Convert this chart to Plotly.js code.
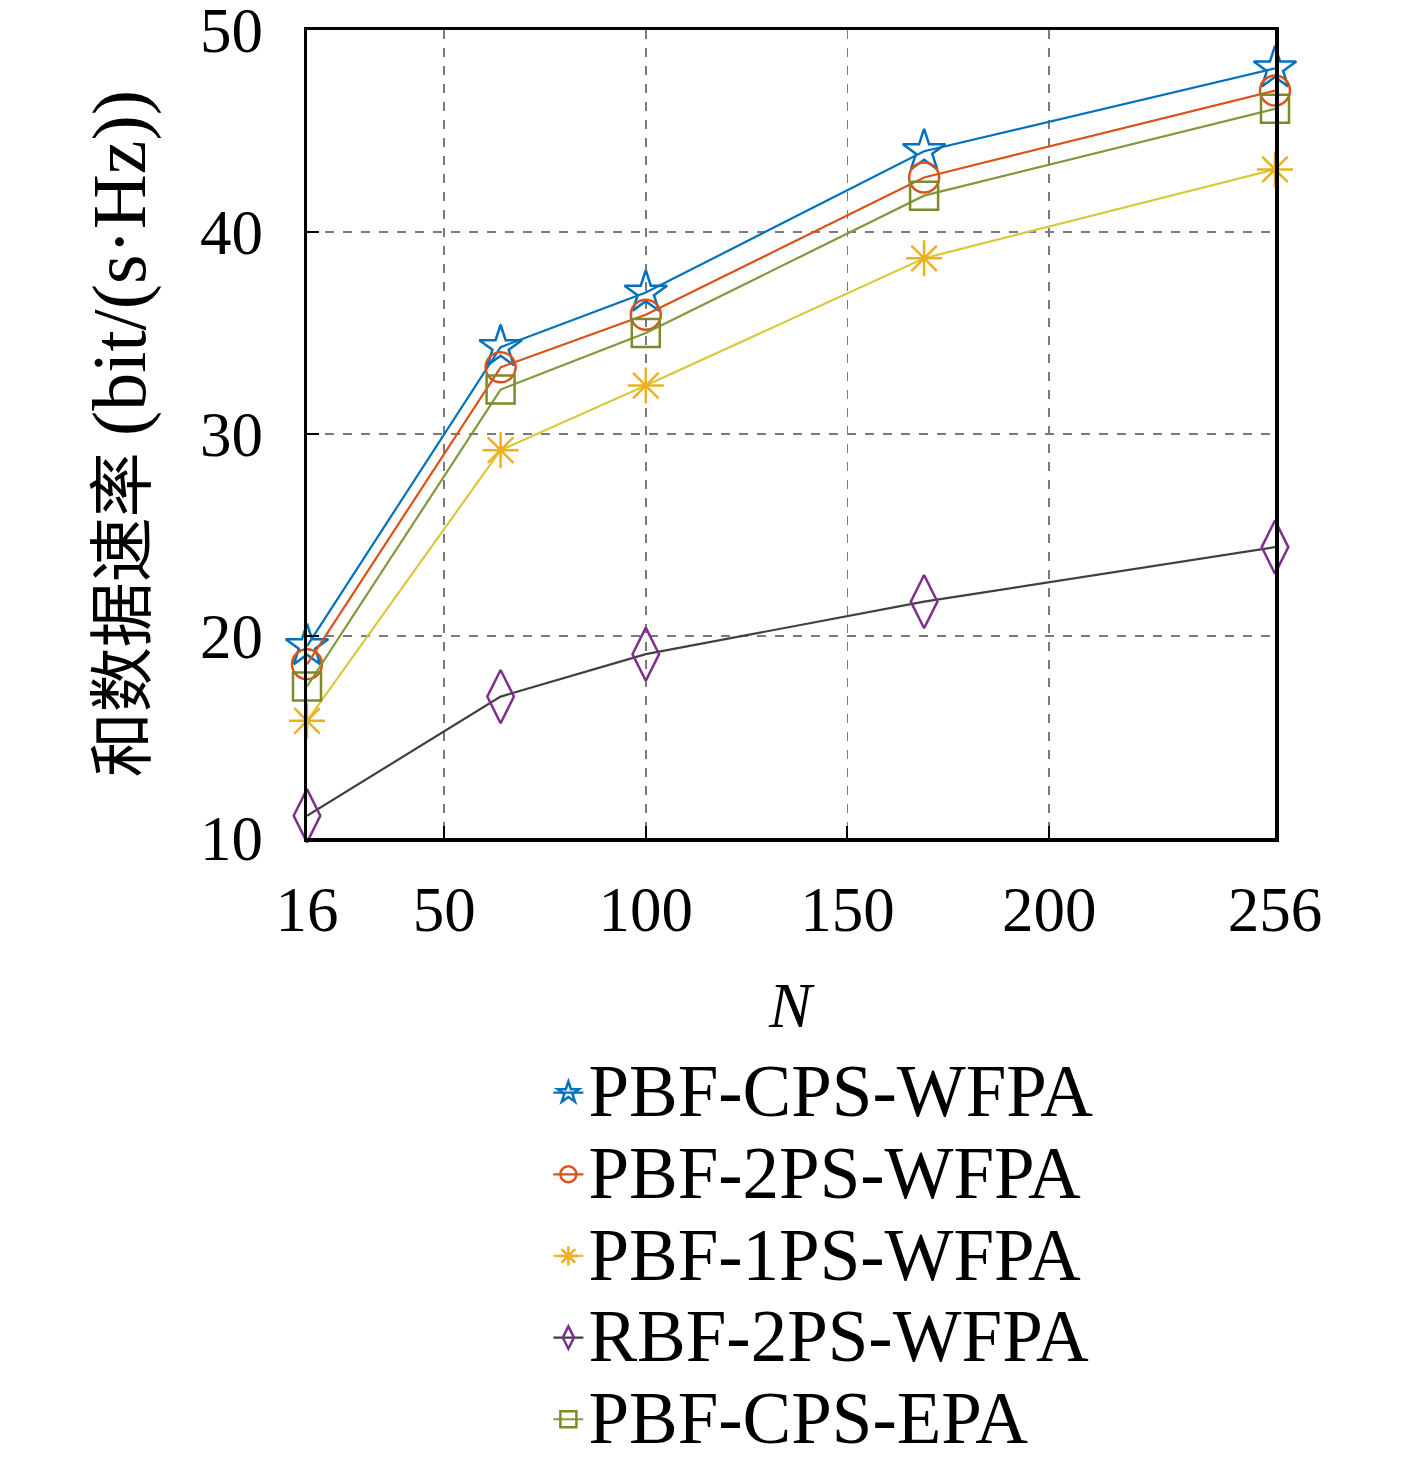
<!DOCTYPE html>
<html><head><meta charset="utf-8">
<script src="https://cdn.plot.ly/plotly-3.0.1.min.js"></script>
<style>body{margin:0;background:#fff}#c{width:1417px;height:1460px}</style>
</head><body><div id="c"></div>
<script>
const N = [16, 64, 100, 169, 256];
const names = ["PBF-CPS-WFPA", "PBF-2PS-WFPA", "PBF-1PS-WFPA", "RBF-2PS-WFPA", "PBF-CPS-EPA"];
const cpsWfpa = [19.5, 34.3, 37.0, 44.0, 48.1];
const ps2Wfpa = [18.6, 33.3, 35.9, 42.7, 47.0];
const ps1Wfpa = [15.8, 29.2, 32.4, 38.7, 43.1];
const rbf2Wfpa = [11.1, 17.0, 19.1, 21.7, 24.4];
const cpsEpa = [17.5, 32.2, 35.0, 41.8, 46.1];
const xTicks = [16, 50, 100, 150, 200, 256];
const yTicks = [10, 20, 30, 40, 50];
const xTitle = "<i>N</i>";
const yTitle = "<span style=\"font-family:'Noto Sans CJK SC'\">和数据速率</span> <span style=\"font-size:76px\">(bit/(s·Hz))</span>";

const series = [cpsWfpa, ps2Wfpa, ps1Wfpa, rbf2Wfpa, cpsEpa];
const lineColors = ["#0072BD", "#D95319", "#D9C93A", "#404040", "#7E9A3A"];
const markColors = ["#0072BD", "#D95319", "#EDB120", "#7E2F8E", "#7E8A2A"];
const symbols = ["star-open", "circle-open", "asterisk-open", "diamond-tall-open", "square-open"];
const sizes = [32, 30, 30, 38, 28];

const traces = series.map((y, i) => ({
  x: N, y: y, name: "<span style=\"font-size:73px\">" + names[i] + "</span>",
  type: "scatter", mode: "lines+markers", cliponaxis: false,
  line: {color: lineColors[i], width: 2.2},
  marker: {symbol: symbols[i], size: sizes[i], color: markColors[i], line: {color: markColors[i], width: 2.5}}
}));

const font = "'Liberation Serif', 'DejaVu Serif', serif";
const layout = {
  width: 1417, height: 1460,
  paper_bgcolor: "#fff", plot_bgcolor: "#fff",
  margin: {l: 307, r: 142, t: 30, b: 622, autoexpand: false},
  font: {family: font, color: "#000", size: 50},
  showlegend: true,
  legend: {
    xref: "container", yref: "container",
    x: 0.387, y: 0.283, xanchor: "left", yanchor: "top",
    font: {family: font, size: 60.5, color: "#000"},
    bgcolor: "rgba(0,0,0,0)", borderwidth: 0
  },
  xaxis: {
    range: [16, 256], tickvals: xTicks, ticktext: xTicks.map(String),
    ticks: "inside", ticklen: 12, tickwidth: 2, tickcolor: "#000",
    showline: true, linecolor: "#000", linewidth: 3.5, mirror: true,
    showgrid: true, gridcolor: "#7a7a7a", griddash: "dash", gridwidth: 1.5,
    zeroline: false, ticklabelstandoff: 14, ticklabeloverflow: "allow", automargin: false,
    tickfont: {family: font, size: 63, color: "#000"}
  },
  yaxis: {
    range: [10, 50], tickvals: yTicks,
    ticks: "inside", ticklen: 12, tickwidth: 2, tickcolor: "#000",
    showline: true, linecolor: "#000", linewidth: 3.5, mirror: true,
    showgrid: true, gridcolor: "#7a7a7a", griddash: "dash", gridwidth: 1.5,
    zeroline: false, ticklabelstandoff: 28, ticklabeloverflow: "allow", automargin: false,
    tickfont: {family: font, size: 63, color: "#000"}
  },
  annotations: [
    {text: xTitle, xref: "paper", yref: "paper", x: 0.5, y: -0.2067, xanchor: "center", yanchor: "middle",
     showarrow: false, font: {family: font, size: 64, color: "#000"}},
    {text: yTitle, xref: "paper", yref: "paper", x: -0.196, y: 0.5, xanchor: "center", yanchor: "middle",
     textangle: -90, showarrow: false, font: {family: font, size: 65, color: "#000"}}
  ]
};
Plotly.newPlot("c", traces, layout, {displayModeBar: false, staticPlot: true});
</script></body></html>
